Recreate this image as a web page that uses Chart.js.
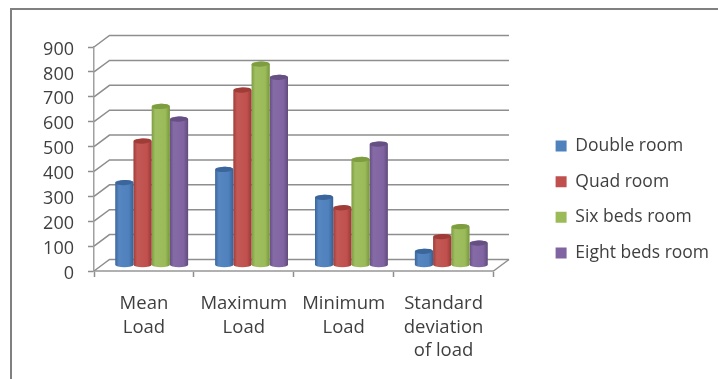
<!DOCTYPE html>
<html>
<head>
<meta charset="utf-8">
<title>Room load</title>
<script src="https://cdn.jsdelivr.net/npm/chart.js@4/dist/chart.umd.min.js"></script>
<style>
    html, body { margin: 0; padding: 0; background: #fff; }
    canvas { display: block; }
</style>
</head>
<body>
<canvas id="loadChart" width="718" height="379"></canvas>
<script>
const categories = [['Mean', 'Load'], ['Maximum', 'Load'], ['Minimum', 'Load'], ['Standard', 'deviation', 'of load']];
const doubleRoom = [332, 385, 273, 56];
const quadRoom = [499, 704, 231, 115];
const sixBedsRoom = [638, 808, 425, 155];
const eightBedsRoom = [587, 755, 487, 89];
const yMax = 900;
const yStep = 100;

const FONT = 'Open Sans';
const TEXT = '#3f3f3f';
const GRID = '#8e8e8e';
const DEPTH_X = 15.5;
const DEPTH_Y = 11.5;

// cylinder standing half way into the depth of the box
class CylinderElement extends Chart.BarElement {
    static id = 'cylinder';
    static defaults = { ...Chart.BarElement.defaults };
    static defaultRoutes = Chart.BarElement.defaultRoutes;

    draw(ctx) {
        const { x, y, base, width } = this.getProps(['x', 'y', 'base', 'width']);
        const color = Chart.helpers.color;
        const fill = this.options.backgroundColor;
        const cx = x + DEPTH_X / 2;
        const top = y - DEPTH_Y / 2;
        const bottom = base - DEPTH_Y / 2;
        const rx = width / 2;
        const ry = 2.6;

        const side = ctx.createLinearGradient(cx - rx, 0, cx + rx, 0);
        side.addColorStop(0, color(fill).darken(0.2).rgbString());
        side.addColorStop(0.2, color(fill).lighten(0.04).rgbString());
        side.addColorStop(0.75, fill);
        side.addColorStop(1, color(fill).darken(0.24).rgbString());

        ctx.save();
        ctx.beginPath();
        ctx.moveTo(cx - rx, top);
        ctx.lineTo(cx - rx, bottom);
        ctx.ellipse(cx, bottom, rx, ry, 0, Math.PI, 0, true);
        ctx.lineTo(cx + rx, top);
        ctx.ellipse(cx, top, rx, ry, 0, 0, Math.PI, true);
        ctx.closePath();
        ctx.fillStyle = side;
        ctx.fill();

        ctx.beginPath();
        ctx.ellipse(cx, top, rx - 0.5, ry, -0.06, 0, Math.PI * 2);
        ctx.fillStyle = color(fill).darken(0.2).rgbString();
        ctx.fill();
        ctx.restore();
    }
}

class CylinderController extends Chart.BarController {
    static id = 'cylinder';
    static defaults = { ...Chart.BarController.defaults, dataElementType: 'cylinder' };
    static overrides = Chart.BarController.overrides;
}

Chart.register(CylinderElement, CylinderController);

// outer frame plus the back wall and its gridlines
const boxPlugin = {
    id: 'box',
    afterLayout(chart) {
        // legend sits closer to the edge and higher than the layout puts it
        chart.legend.left += 44;
        chart.legend.right = chart.width;
        chart.legend.top -= 13.5;
        chart.legend.bottom -= 13.5;
    },
    beforeDraw(chart) {
        const ctx = chart.ctx;
        ctx.save();
        ctx.strokeStyle = '#808080';
        ctx.lineWidth = 2;
        ctx.beginPath();
        ctx.moveTo(11, chart.height);
        ctx.lineTo(11, 9);
        ctx.lineTo(chart.width, 9);
        ctx.stroke();
        ctx.restore();
    },
    beforeDatasetsDraw(chart) {
        const ctx = chart.ctx;
        const { x, y } = chart.scales;
        ctx.save();
        ctx.strokeStyle = GRID;
        ctx.lineWidth = 1.5;
        y.ticks.forEach(tick => {
            const py = y.getPixelForValue(tick.value);
            ctx.beginPath();
            ctx.moveTo(x.left, py);
            ctx.lineTo(x.left + DEPTH_X, py - DEPTH_Y);
            ctx.lineTo(x.right + DEPTH_X, py - DEPTH_Y);
            ctx.stroke();
        });
        const floor = y.getPixelForValue(0);
        ctx.beginPath();
        ctx.moveTo(x.right, floor);
        ctx.lineTo(x.right + DEPTH_X, floor - DEPTH_Y);
        ctx.stroke();
        ctx.restore();
    }
};

new Chart(document.getElementById('loadChart'), {
    type: 'cylinder',
    data: {
        labels: categories,
        datasets: [
            { label: 'Double room', data: doubleRoom, backgroundColor: '#4f81bd' },
            { label: 'Quad room', data: quadRoom, backgroundColor: '#c0504d' },
            { label: 'Six beds room', data: sixBedsRoom, backgroundColor: '#9bbb59' },
            { label: 'Eight beds room', data: eightBedsRoom, backgroundColor: '#8064a2' }
        ]
    },
    plugins: [boxPlugin],
    options: {
        responsive: false,
        animation: false,
        layout: { padding: { top: 47, right: 60 } },
        categoryPercentage: 0.73,
        barPercentage: 1,
        plugins: {
            tooltip: { enabled: false },
            legend: {
                position: 'right',
                labels: {
                    boxWidth: 11,
                    boxHeight: 11,
                    padding: 18.1,
                    color: TEXT,
                    font: { family: FONT, size: 17.5 }
                }
            }
        },
        scales: {
            x: {
                type: 'category',
                offset: true,
                afterFit(scale) { scale.height = 108; },
                grid: { offset: true, drawOnChartArea: false, tickLength: 6, tickColor: GRID, tickWidth: 1.5 },
                border: { color: '#b0b0b0', width: 2 },
                ticks: { color: TEXT, padding: 15, maxRotation: 0, font: { family: FONT, size: 18.5, lineHeight: 1.28 } }
            },
            y: {
                min: 0,
                max: yMax,
                afterFit(scale) { scale.width = 94; },
                grid: { drawOnChartArea: false, tickLength: 6, tickColor: GRID, tickWidth: 1.5 },
                border: { color: '#a0a0a0', width: 1.5 },
                ticks: { stepSize: yStep, color: TEXT, padding: 14, labelOffset: 2.5, font: { family: FONT, size: 18 } }
            }
        }
    }
});
</script>
</body>
</html>
